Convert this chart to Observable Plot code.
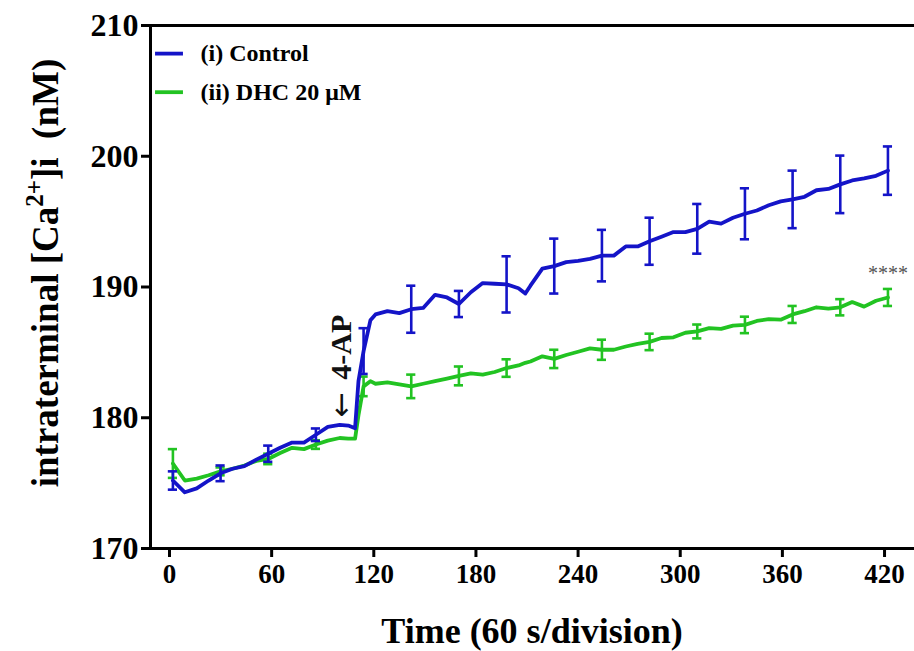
<!DOCTYPE html>
<html>
<head>
<meta charset="utf-8">
<script src="https://cdn.jsdelivr.net/npm/d3@7"></script>
<script src="https://cdn.jsdelivr.net/npm/@observablehq/plot@0.6"></script>
<style>
  html, body { margin: 0; padding: 0; background: #fff; }
</style>
</head>
<body>
<div id="chart"></div>
<script>
// ---- data ----
const seriesNames = ["(i) Control", "(ii) DHC 20 μM"];
const seriesColors = ["#1414c8", "#22c322"];
const time = [2, 9, 16, 23, 30, 37, 44, 51, 58, 65, 72, 79, 86, 93, 100, 105, 109, 111, 114, 118,
  121, 128, 135, 142, 149, 156, 163, 170, 177, 184, 191, 198, 205, 209, 212, 219, 226, 233, 240, 247,
  254, 261, 268, 275, 282, 289, 296, 303, 310, 317, 324, 331, 338, 345, 352, 359, 366, 373, 380, 387,
  394, 401, 408, 415, 422];
const control = [175.2, 174.3, 174.6, 175.2, 175.75, 176.1, 176.3, 176.8, 177.25, 177.7, 178.1, 178.1, 178.7, 179.3, 179.45, 179.4, 179.2, 182.8, 185.1, 187.45,
  187.9, 188.15, 188.0, 188.3, 188.4, 189.4, 189.2, 188.7, 189.6, 190.3, 190.25, 190.2, 189.9, 189.5, 190.1, 191.4, 191.6, 191.9, 192.0, 192.15,
  192.4, 192.4, 193.1, 193.1, 193.5, 193.85, 194.2, 194.2, 194.45, 195.0, 194.85, 195.3, 195.6, 195.85, 196.25, 196.55, 196.7, 196.9, 197.4, 197.5,
  197.85, 198.15, 198.3, 198.5, 198.9];
const dhc = [176.5, 175.2, 175.35, 175.6, 175.9, 176.1, 176.35, 176.7, 176.85, 177.3, 177.7, 177.6, 177.95, 178.25, 178.45, 178.4, 178.4, 180.2, 182.4, 182.8,
  182.6, 182.7, 182.55, 182.4, 182.6, 182.8, 183.0, 183.2, 183.4, 183.3, 183.5, 183.8, 184.0, 184.2, 184.3, 184.7, 184.5, 184.8, 185.05, 185.3,
  185.2, 185.2, 185.45, 185.65, 185.8, 186.1, 186.15, 186.5, 186.6, 186.85, 186.8, 187.05, 187.1, 187.4, 187.55, 187.5, 187.9, 188.15, 188.45, 188.35,
  188.45, 188.85, 188.5, 188.95, 189.2];
const errTime = [2, 30, 58, 86, 114, 142, 170, 198, 226, 254, 282, 310, 338, 366, 394, 422];
const controlSem = [0.7, 0.6, 0.62, 0.48, 1.75, 1.8, 1.0, 2.15, 2.1, 1.97, 1.8, 1.9, 1.95, 2.2, 2.2, 1.85];
const dhcSem = [1.1, 0.3, 0.4, 0.33, 0.75, 0.9, 0.72, 0.67, 0.7, 0.77, 0.63, 0.53, 0.63, 0.65, 0.62, 0.65];
const xTicks = [0, 60, 120, 180, 240, 300, 360, 420];
const yTicks = [170, 180, 190, 200, 210];
const stimulusArrow = "←";
const stimulusLabel = "4-AP";
const stimulusTime = 101;
const significance = "****";

// ---- tables built from the arrays ----
const valuesBySeries = [control, dhc];
const semBySeries = [controlSem, dhcSem];
const lineRows = [];
const errRows = [];
seriesNames.forEach((name, s) => {
  time.forEach((t, i) => lineRows.push({series: name, t, v: valuesBySeries[s][i]}));
  errTime.forEach((t, i) => errRows.push({series: name, t, m: valuesBySeries[s][time.indexOf(t)], s: semBySeries[s][i]}));
});
// draw DHC first, Control on top
const order = [1, 0];

const xDomain = [-11.16, 437.6];
const yDomain = [170, 210];
const capHalf = 2.7;
const serif = "'Liberation Serif', 'Times New Roman', Times, serif";

const marks = [
  Plot.ruleY([yDomain[1]], {stroke: "#000", strokeWidth: 3}),
  Plot.ruleY([yDomain[0]], {stroke: "#000", strokeWidth: 3}),
  Plot.ruleX([xDomain[0]], {stroke: "#000", strokeWidth: 3}),
  Plot.axisY({ticks: yTicks, tickSize: 9, tickPadding: 3, strokeWidth: 3, fontSize: 32, label: null}),
  Plot.axisX({ticks: xTicks, tickSize: 9, tickPadding: 6, strokeWidth: 3, fontSize: 27, label: null})
];
for (const s of order) {
  const name = seriesNames[s];
  const c = seriesColors[s];
  const rows = lineRows.filter(d => d.series === name);
  const er = errRows.filter(d => d.series === name);
  marks.push(
    Plot.ruleX(er, {x: "t", y1: d => d.m - d.s, y2: d => d.m + d.s, stroke: c, strokeWidth: 2.6}),
    Plot.ruleY(er, {y: d => d.m - d.s, x1: d => d.t - capHalf, x2: d => d.t + capHalf, stroke: c, strokeWidth: 2.6}),
    Plot.ruleY(er, {y: d => d.m + d.s, x1: d => d.t - capHalf, x2: d => d.t + capHalf, stroke: c, strokeWidth: 2.6}),
    Plot.line(rows, {x: "t", y: "v", stroke: c, strokeWidth: 3.8, strokeLinejoin: "round", strokeLinecap: "round"})
  );
}
// legend inside the frame, top-left
const legendRows = seriesNames.map((name, i) => ({name, color: seriesColors[i], y: [207.85, 204.9][i]}));
marks.push(
  Plot.ruleY(legendRows, {y: "y", x1: -8.2, x2: 8.2, stroke: "color", strokeWidth: 3.8}),
  Plot.text(legendRows, {x: 18.2, y: "y", text: "name", textAnchor: "start", fontSize: 24, fontWeight: "bold", fontFamily: serif, fill: "#000"})
);
// 4-AP annotation and significance stars
const lastErr = errRows.filter(d => d.series === seriesNames[1]).at(-1);
marks.push(
  Plot.text([stimulusLabel], {x: stimulusTime, y: 185.4, text: d => d, rotate: -90, fontSize: 30, fontWeight: "bold", fontFamily: serif, fill: "#111"}),
  Plot.text([stimulusArrow], {x: stimulusTime, y: 181.0, text: d => d, rotate: -90, fontSize: 30, fontWeight: "normal", fontFamily: "'DejaVu Sans', sans-serif", fill: "#111"}),
  Plot.text([significance], {x: lastErr.t, y: 191.0, text: d => d, fontSize: 20, fontWeight: "normal", fill: "#555"})
);

const plot = Plot.plot({
  width: 914,
  height: 651,
  marginTop: 25,
  marginBottom: 103,
  marginLeft: 150,
  marginRight: 0,
  style: {fontFamily: serif, fontWeight: "bold", background: "#fff", color: "#000", overflow: "visible"},
  x: {domain: xDomain},
  y: {domain: yDomain},
  marks
});

// axis titles (y title needs a superscript)
const svg = d3.select(plot);
svg.append("text")
  .attr("transform", "translate(58,273) rotate(-90)")
  .attr("text-anchor", "middle")
  .attr("font-family", serif)
  .attr("font-weight", "bold")
  .attr("font-size", 37)
  .attr("fill", "#000")
  .call(t => {
    t.append("tspan").text("intraterminal [Ca");
    t.append("tspan").attr("dy", -15).attr("font-size", 25).text("2+");
    t.append("tspan").attr("dy", 15).text("]i\u00a0\u00a0(nM)");
  });
svg.append("text")
  .attr("x", 532)
  .attr("y", 643)
  .attr("text-anchor", "middle")
  .attr("font-family", serif)
  .attr("font-weight", "bold")
  .attr("font-size", 36)
  .attr("fill", "#000")
  .text("Time (60 s/division)");

document.getElementById("chart").append(plot);
</script>
</body>
</html>
